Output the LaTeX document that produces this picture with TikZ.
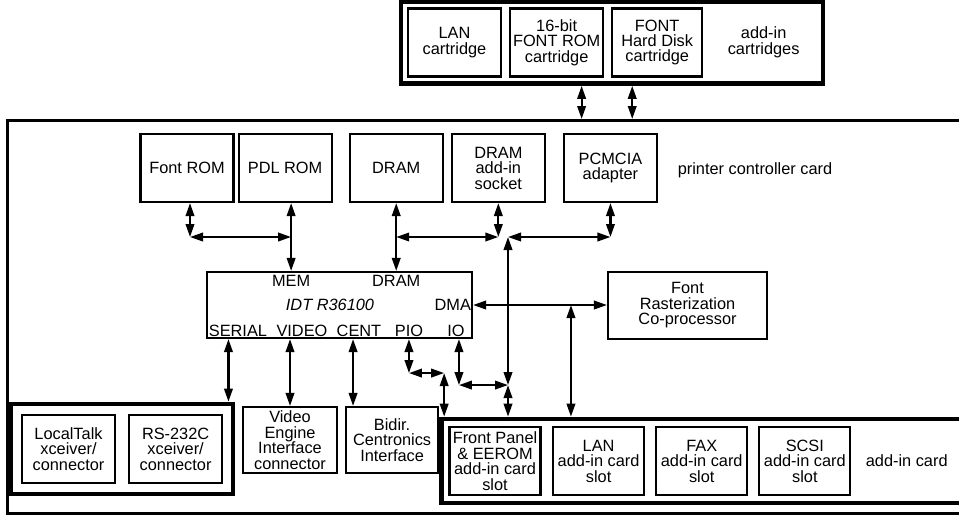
\documentclass[tikz,border=0pt]{standalone}
\usepackage{fontspec}
\setmainfont{Liberation Sans}
\usetikzlibrary{arrows.meta, positioning, fit, calc}

\begin{document}
\begin{tikzpicture}[
    font=\fontsize{9.3}{8.8}\selectfont,
    box/.style={draw, line width=1.2pt, minimum width=1.86cm, minimum height=1.36cm, inner sep=1pt, align=center},
    grp/.style={draw, line width=2.6pt, inner sep=0.12cm},
    port/.style={inner sep=1pt},
    biarr/.style={{Triangle[length=2.6mm,width=1.7mm]}-{Triangle[length=2.6mm,width=1.7mm]}, line width=1.2pt},
    arr/.style={-{Triangle[length=2.6mm,width=1.7mm]}, line width=1.2pt},
]
\useasboundingbox (0,0) rectangle (19.18,-10.3);

% Cartridges
\node[box] (lancart) at (9.09,-0.85) {LAN\\cartridge};
\node[box, right=0.14cm of lancart] (romcart) {16-bit\\FONT ROM\\cartridge};
\node[box, minimum width=1.8cm, right=0.14cm of romcart] (hdcart) {FONT\\Hard Disk\\cartridge};
\node[minimum width=2.12cm, align=center, right=0.14cm of hdcart] (addcart) {add-in\\cartridges};
\node[grp, fit=(lancart)(addcart)] (cartgrp) {};

% Controller card
\node[draw, line width=1.6pt, minimum width=19.4cm, minimum height=7.86cm, anchor=north west] (card) at (0.12,-2.38) {};
\node (pcc) at (15.1,-3.4) {printer controller card};

% Memory row
\node[box] (fontrom) at (3.74,-3.36) {Font ROM};
\node[box, right=0.06cm of fontrom] (pdlrom) {PDL ROM};
\node[box, right=0.32cm of pdlrom] (dram) {DRAM};
\node[box, right=0.14cm of dram] (socket) {DRAM\\add-in\\socket};
\node[box, right=0.34cm of socket] (pcmcia) {PCMCIA\\adapter};

% Processor
\node[box, minimum width=5.3cm, minimum height=1.32cm] (cpu) at (6.79,-6.1) {};
\node[port, inner sep=2.5pt, anchor=north] (mem) at ($(pdlrom.south |- cpu.north)+(0.12,0)$) {MEM};
\node[port, inner sep=2.5pt, anchor=north] (dramp) at (dram.south |- cpu.north) {DRAM};
\node (idt) at ($(cpu.center)+(-0.19,0)$) {\itshape IDT R36100};
\node[port, anchor=east] (dma) at (cpu.east) {DMA};
\node[port, anchor=south] (serial) at ($(cpu.south west)+(0.64,0)$) {SERIAL};
\node[port, anchor=south] (videop) at ($(cpu.south west)+(1.92,0)$) {VIDEO};
\node[port, anchor=south] (cent) at ($(cpu.south west)+(3.06,0)$) {CENT};
\node[port, anchor=south] (pio) at ($(cpu.south west)+(4.06,0)$) {PIO};
\node[port, anchor=south] (io) at ($(cpu.south west)+(5.0,0)$) {IO};

\node[box, minimum width=3.18cm, minimum height=1.34cm] (raster) at (13.75,-6.11) {Font\\Rasterization\\Co-processor};

% Serial connectors
\node[box] (ltalk) at (1.37,-8.98) {LocalTalk\\xceiver/\\connector};
\node[box, right=0.24cm of ltalk] (rs232) {RS-232C\\xceiver/\\connector};
\node[grp, fit=(ltalk)(rs232), inner sep=0.2cm] (sergrp) {};

\node[box, minimum width=1.88cm, minimum height=1.32cm] (video) at (5.8,-8.8) {Video\\Engine\\Interface\\connector};
\node[box, minimum width=1.84cm, minimum height=1.32cm, right=0.14cm of video] (bidir) {Bidir.\\Centronics\\Interface};

% Add-in cards
\node[box, minimum width=1.82cm] (fpanel) at (9.9,-9.22) {Front Panel\\\& EEROM\\add-in card\\slot};
\node[box, minimum width=1.82cm, right=0.21cm of fpanel] (lanslot) {LAN\\add-in card\\slot};
\node[box, minimum width=1.82cm, right=0.2cm of lanslot] (faxslot) {FAX\\add-in card\\slot};
\node[box, minimum width=1.82cm, right=0.2cm of faxslot] (scsislot) {SCSI\\add-in card\\slot};
\node[minimum width=1.96cm, right=0.12cm of scsislot] (addcard) {add-in card};
\node[grp, fit=(fpanel)(addcard), inner sep=0.14cm] (addgrp) {};

% Cartridge bus
\coordinate (c1) at ($(romcart.south)+(0.5,0)$);
\coordinate (c2) at ($(hdcart.south)+(-0.5,0)$);
\draw[biarr] (c1 |- cartgrp.south) -- (c1 |- card.north);
\draw[biarr] (c2 |- cartgrp.south) -- (c2 |- card.north);

% Memory bus
\coordinate (busy) at ($(pdlrom.south)!0.5!(pdlrom.south |- cpu.north)$);
\coordinate (fr) at ($(fontrom.south)+(0.06,0)$);
\draw[biarr] (fr) -- (fr |- busy);
\draw[biarr] (fr |- busy) -- (mem.north |- busy);
\draw[biarr] (mem.north |- pdlrom.south) -- (mem.north);
\draw[biarr] (dramp.north |- dram.south) -- (dramp.north);
\draw[biarr] (socket.south) -- (socket.south |- busy);
\draw[biarr] (socket.south |- busy) -- (dramp.north |- busy);

% PCMCIA and IO bus
\coordinate (bus) at ($(fpanel.north)+(0.26,0)$);
\coordinate (ioj) at ($(io.south)+(0.06,-0.92)$);
\draw[biarr] (pcmcia.south) -- (pcmcia.south |- busy);
\draw[biarr] (pcmcia.south |- busy) -- (bus |- busy);
\draw[biarr] (bus |- busy) -- (bus |- ioj);
\draw[biarr] (bus |- ioj) -- (bus |- addgrp.north);
\draw[biarr] (ioj |- io.south) -- (ioj);
\draw[biarr] (ioj) -- (bus |- ioj);

% PIO
\coordinate (pioa) at ($(pio.south)+(0,-0.68)$);
\coordinate (piob) at ($(addgrp.north west)+(0.1,0)$);
\draw[biarr] (pio.south) -- (pioa);
\draw[biarr] (pioa) -- (piob |- pioa);
\draw[biarr] (piob |- pioa) -- (piob);

% DMA
\draw[biarr] (cpu.east) -- (cpu.east -| raster.west);
\coordinate (ras) at ($(cpu.east -| raster.west)+(-0.72,0)$);
\draw[biarr] (ras) -- (ras |- addgrp.north);

% Serial, video, Centronics
\coordinate (serx) at ($(sergrp.north east)+(-0.14,0)$);
\coordinate (centx) at ($(bidir.north west)+(0.16,0)$);
\draw[biarr] (serx |- cpu.south) -- (serx);
\draw[biarr] (video.north |- cpu.south) -- (video.north);
\draw[biarr] (centx |- cpu.south) -- (centx);
\end{tikzpicture}
\end{document}
